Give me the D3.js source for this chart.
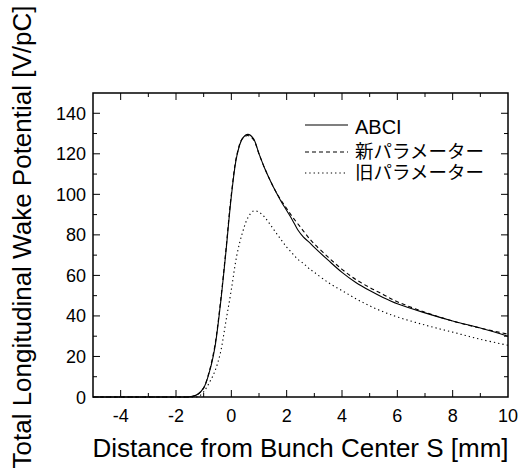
<!DOCTYPE html>
<html><head><meta charset="utf-8">
<script src="https://cdn.jsdelivr.net/npm/d3@7"></script>
<style>body{margin:0;background:#fff}svg{display:block}</style>
</head><body>
<script>
const sABCI = [-5,-2,-1.6,-1.4,-1.2,-1.0,-0.8,-0.6,-0.4,-0.2,0,0.2,0.4,0.6,0.8,1.0,1.2,1.4,1.6,1.8,2.0,2.2,2.4,2.6,2.8,3.0,3.5,4,4.5,5,5.5,6,7,8,9,10];
const vABCI = [0,0,0,0.3,1.5,4.5,12,24,45,71,99,119,127.5,129.6,127.5,120,113,107,101.5,96.5,92,87.5,82.5,79,76.5,73.8,67.5,61.5,56.5,52.5,49,46,41.5,37.5,34,30];
const sNew = [-5,-2,-1.6,-1.4,-1.2,-1.0,-0.8,-0.6,-0.4,-0.2,0,0.2,0.4,0.6,0.8,1.0,1.2,1.4,1.6,1.8,2.0,2.2,2.4,2.6,2.8,3.0,3.5,4,4.5,5,5.5,6,7,8,9,10];
const vNew = [0,0,0,0.3,1.5,4.5,12.5,25,46,72,100,119.5,127.5,129,127,120,113,107,101.5,97,93,89,85.5,82,78.5,75.5,69,63,58,54,50.5,47,41.8,37.5,34,31];
const sOld = [-5,-2,-1.6,-1.4,-1.2,-1.0,-0.8,-0.6,-0.4,-0.2,0,0.2,0.4,0.6,0.8,1.0,1.2,1.4,1.6,1.8,2.0,2.2,2.4,2.6,2.8,3.0,3.5,4,4.5,5,5.5,6,7,8,9,10];
const vOld = [0,0,0,0,0.2,2.5,7,12.5,21.5,37,53,70,81,88.5,91.8,91.2,88.8,85.2,81.3,77.6,74,71,68,66,63.5,61.5,56.5,52.5,48.5,45,42,39.5,35.5,32,28.5,25.5];
const xTicks = [-4,-2,0,2,4,6,8,10];
const yTicks = [0,20,40,60,80,100,120,140];
const legendLabels = ["ABCI","新パラメーター","旧パラメーター"];
const xTitle = "Distance from Bunch Center S [mm]";
const yTitle = "Total Longitudinal Wake Potential [V/pC]";

const W=518,H=471;
const L=93,R=508,T=93,B=397;
const svg=d3.select("body").append("svg").attr("width",W).attr("height",H);
const x=d3.scaleLinear().domain([-5,10]).range([L,R]);
const y=d3.scaleLinear().domain([0,150]).range([B,T]);
const font="'Liberation Sans', Arial, sans-serif";

// ticks inward on all sides
const g=svg.append("g").attr("stroke","#000").attr("stroke-width",1);
d3.range(-4,10,1).forEach(v=>{
  const len = (v%2===0)?7:4;
  g.append("line").attr("x1",x(v)).attr("x2",x(v)).attr("y1",B).attr("y2",B-len);
  g.append("line").attr("x1",x(v)).attr("x2",x(v)).attr("y1",T).attr("y2",T+len);
});
d3.range(10,150,10).forEach(v=>{
  const len = (v%20===0)?7:4;
  g.append("line").attr("y1",y(v)).attr("y2",y(v)).attr("x1",L).attr("x2",L+len);
  g.append("line").attr("y1",y(v)).attr("y2",y(v)).attr("x1",R).attr("x2",R-len);
});

// curves
const line=d3.line().curve(d3.curveCatmullRom.alpha(0.5));
function draw(s,v,dash){
  svg.append("path").datum(s.map((d,i)=>[x(d),y(v[i])]))
    .attr("d",line).attr("fill","none").attr("stroke","#000")
    .attr("stroke-width",1.1).attr("stroke-dasharray",dash);
}
draw(sOld,vOld,"1.3,3");
draw(sNew,vNew,"4,3");
draw(sABCI,vABCI,null);

// frame
svg.append("rect").attr("x",L).attr("y",T).attr("width",R-L).attr("height",B-T)
  .attr("fill","none").attr("stroke","#000").attr("stroke-width",1.5);

// tick labels
svg.append("g").selectAll("text").data(xTicks).join("text")
  .attr("x",d=>x(d)).attr("y",422).attr("text-anchor","middle")
  .attr("font-family",font).attr("font-size",18).text(d=>d);
svg.append("g").selectAll("text").data(yTicks).join("text")
  .attr("x",86).attr("y",d=>y(d)+6.5).attr("text-anchor","end")
  .attr("font-family",font).attr("font-size",18).text(d=>d);

// titles
svg.append("text").attr("x",(L+R)/2).attr("y",457).attr("text-anchor","middle")
  .attr("font-family",font).attr("font-size",26).text(xTitle);
svg.append("text").attr("transform","translate(31,237) rotate(-90)").attr("text-anchor","middle")
  .attr("font-family",font).attr("font-size",26).text(yTitle);

// legend
const ly=[125,152,173];
const dashes=[null,"4,3","1.3,3"];
legendLabels.forEach((t,i)=>{
  svg.append("line").attr("x1",305).attr("x2",348).attr("y1",ly[i]).attr("y2",ly[i])
    .attr("stroke","#000").attr("stroke-width",1.1).attr("stroke-dasharray",dashes[i]);
  svg.append("text").attr("x",355).attr("y",i===0?134:ly[i]+5.5)
    .attr("font-family","'Liberation Sans', 'Noto Sans CJK JP', sans-serif")
    .attr("font-size",i===0?20:18.5).text(t);
});
</script>
</body></html>
